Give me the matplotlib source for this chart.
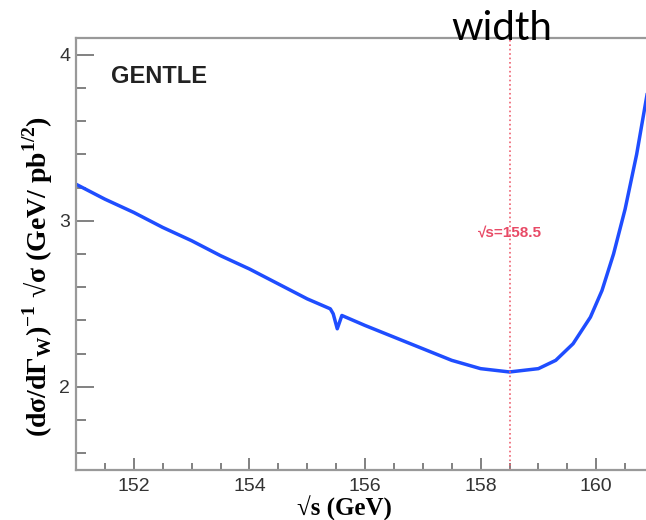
import matplotlib.pyplot as plt
from matplotlib.ticker import MultipleLocator

# curve
sqrt_s = [151.0, 151.5, 152.0, 152.5, 153.0, 153.5, 154.0, 154.5, 155.0,
          155.4, 155.45, 155.52, 155.6, 155.8, 156.0, 156.5, 157.0, 157.5,
          158.0, 158.5, 159.0, 159.3, 159.6, 159.9, 160.1, 160.3, 160.5,
          160.7, 160.9]
sens = [3.22, 3.13, 3.05, 2.96, 2.88, 2.79, 2.71, 2.62, 2.53,
        2.47, 2.44, 2.35, 2.43, 2.40, 2.37, 2.30, 2.23, 2.16,
        2.11, 2.09, 2.11, 2.16, 2.26, 2.42, 2.58, 2.80, 3.07,
        3.40, 3.80]
best_point = 158.5
x_ticks = [152, 154, 156, 158, 160]
y_ticks = [2, 3, 4]

fig = plt.figure(figsize=(6.46, 5.20), dpi=100)
ax = fig.add_axes([76 / 646, 50 / 520, 578 / 646, 432 / 520])

ax.plot(sqrt_s, sens, color="#1f4dff", lw=2.5)
ax.axvline(best_point, color="#ee6070", lw=1.2, ls=":")
ax.text(best_point, 2.93, "\u221as=158.5", color="#e84a66", fontsize=11,
        fontweight="bold", ha="center", va="center", family="Liberation Sans")
ax.text(151.6, 3.87, "GENTLE", fontsize=17, fontweight="bold",
        family="Liberation Sans", va="center", color="#222222")

ax.set_xlim(151, 161)
ax.set_ylim(1.5, 4.1)
ax.set_xticks(x_ticks)
ax.set_yticks(y_ticks)
ax.xaxis.set_minor_locator(MultipleLocator(0.5))
ax.yaxis.set_minor_locator(MultipleLocator(0.2))
ax.tick_params(which="both", direction="in", color="#777777",
               labelcolor="#333333", labelsize=14, width=1.3,
               top=False, right=False)
ax.tick_params(axis="x", which="major", length=8.6, pad=6)
ax.tick_params(axis="x", which="minor", length=5)
ax.tick_params(axis="y", which="major", length=13, pad=4.3)
ax.tick_params(axis="y", which="minor", length=7)
for lab in ax.get_xticklabels() + ax.get_yticklabels():
    lab.set_family("Liberation Sans")
for side in ["left", "bottom", "top"]:
    ax.spines[side].set_color("#999999")
    ax.spines[side].set_linewidth(1.6)
ax.spines["right"].set_visible(False)

ax.set_xlabel("\u221as (GeV)", family="Liberation Serif", fontweight="bold",
              fontsize=18, va="center")
ax.xaxis.set_label_coords(0.464, -0.088)
ax.set_ylabel("(d\u03c3/d\u0393$_\\mathregular{W}$)$^\\mathregular{-1}$ \u221a\u03c3 "
              "(GeV/ pb$^\\mathregular{1/2}$)", family="Liberation Serif",
              fontweight="bold", fontsize=20, va="center")
ax.yaxis.set_label_coords(-0.067, 0.447)

fig.text(502 / 646, 1 - 28 / 520, "width", fontsize=29, family="Lato",
         ha="center", va="center", color="black")

fig.savefig("out.png", dpi=100)
